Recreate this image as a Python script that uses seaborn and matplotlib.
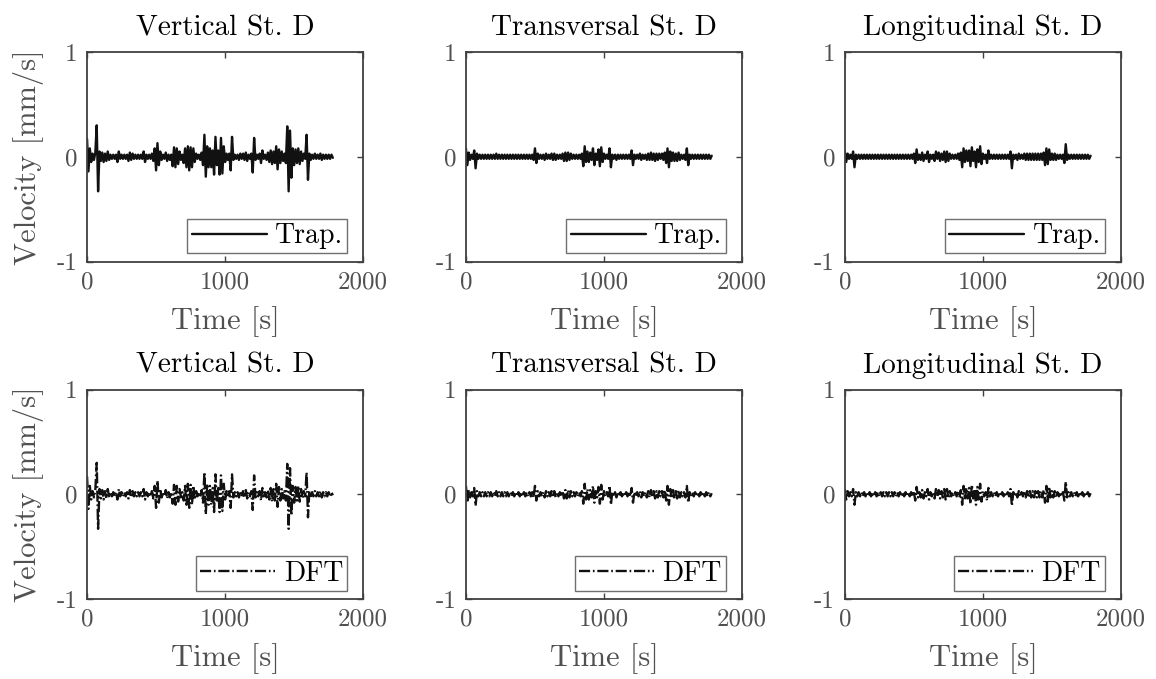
import numpy as np
import pandas as pd
import seaborn as sns
import matplotlib.pyplot as plt

time_s = np.arange(0, 1790, 10)

vertical = [
    0.17, -0.14, 0.08, -0.05, 0.03, -0.03, 0.04, 0.30, -0.33, 0.05,
    -0.04, 0.04, -0.05, 0.03, -0.04, 0.05, -0.03, 0.02, -0.02, 0.02,
    -0.02, 0.02, -0.05, 0.05, -0.02, 0.02, -0.02, 0.02, -0.02, 0.02,
    -0.04, 0.04, -0.03, 0.03, -0.02, 0.02, -0.02, 0.02, -0.02, 0.02,
    -0.02, 0.05, -0.05, 0.02, -0.02, 0.02, -0.02, 0.03, -0.04, 0.08,
    -0.13, 0.13, -0.08, 0.05, -0.03, 0.02, -0.02, 0.04, -0.04, 0.02,
    -0.03, 0.02, -0.09, 0.09, -0.10, 0.08, -0.07, 0.05, -0.03, 0.02,
    -0.06, 0.08, -0.10, 0.10, -0.13, 0.09, -0.10, 0.08, -0.05, 0.03,
    -0.02, 0.02, -0.03, 0.04, -0.08, 0.21, -0.19, 0.10, -0.10, 0.08,
    -0.10, 0.06, -0.17, 0.19, -0.08, 0.06, -0.17, 0.18, -0.16, 0.10,
    -0.05, 0.03, -0.03, 0.03, -0.13, 0.19, -0.03, 0.02, -0.02, 0.02,
    -0.03, 0.03, -0.02, 0.03, -0.03, 0.04, -0.04, 0.02, -0.02, 0.03,
    -0.15, 0.18, -0.03, 0.02, -0.02, 0.03, -0.06, 0.06, -0.02, 0.02,
    -0.03, 0.04, -0.05, 0.06, -0.07, 0.05, -0.06, 0.10, -0.12, 0.07,
    -0.06, 0.05, -0.04, 0.03, -0.06, 0.29, -0.33, 0.25, -0.20, 0.08,
    -0.08, 0.07, -0.06, 0.08, -0.07, 0.05, -0.04, 0.03, -0.02, 0.21,
    -0.22, 0.03, -0.03, 0.02, -0.02, 0.03, -0.02, 0.02, -0.02, 0.03,
    -0.03, 0.02, -0.02, 0.02, -0.02, 0.02, -0.02, 0.02, -0.01,
]

transversal = [
    0.08, -0.08, 0.04, -0.03, 0.02, -0.02, 0.06, -0.11, 0.03, -0.02,
    0.02, -0.02, 0.02, -0.02, 0.02, -0.02, 0.02, -0.02, 0.02, -0.02,
    0.02, -0.02, 0.03, -0.02, 0.02, -0.02, 0.02, -0.02, 0.02, -0.02,
    0.02, -0.02, 0.02, -0.02, 0.02, -0.02, 0.02, -0.02, 0.02, -0.02,
    0.02, -0.02, 0.02, -0.02, 0.02, -0.02, 0.02, -0.02, 0.02, -0.03,
    0.08, -0.06, 0.03, -0.02, 0.02, -0.02, 0.02, -0.03, 0.03, -0.02,
    0.02, -0.02, 0.03, -0.03, 0.03, -0.03, 0.02, -0.02, 0.02, -0.02,
    0.03, -0.04, 0.04, -0.04, 0.04, -0.03, 0.03, -0.02, 0.02, -0.02,
    0.02, -0.02, 0.02, -0.02, 0.03, -0.09, 0.10, -0.05, 0.05, -0.05,
    0.04, -0.03, 0.08, -0.08, 0.03, -0.03, 0.07, -0.09, 0.09, -0.05,
    0.03, -0.02, 0.02, -0.02, 0.08, -0.10, 0.02, -0.02, 0.02, -0.03,
    0.02, -0.02, 0.02, -0.02, 0.02, -0.02, 0.02, -0.02, 0.02, -0.02,
    0.06, -0.08, 0.02, -0.02, 0.02, -0.02, 0.03, -0.03, 0.02, -0.02,
    0.02, -0.03, 0.03, -0.03, 0.04, -0.03, 0.03, -0.04, 0.03, -0.03,
    0.03, -0.02, 0.03, -0.03, 0.04, -0.06, 0.08, -0.10, 0.05, -0.04,
    0.04, -0.04, 0.03, -0.04, 0.04, -0.03, 0.02, -0.02, 0.02, -0.03,
    0.08, -0.08, 0.02, -0.02, 0.02, -0.02, 0.02, -0.02, 0.02, -0.02,
    0.02, -0.02, 0.02, -0.02, 0.02, -0.02, 0.02, -0.02, 0.01,
]

longitudinal = [
    0.05, -0.05, 0.03, -0.02, 0.02, -0.02, 0.05, -0.10, 0.02, -0.02,
    0.02, -0.02, 0.02, -0.02, 0.02, -0.02, 0.02, -0.02, 0.02, -0.02,
    0.02, -0.02, 0.02, -0.02, 0.02, -0.02, 0.02, -0.02, 0.02, -0.02,
    0.02, -0.02, 0.02, -0.02, 0.02, -0.02, 0.02, -0.02, 0.02, -0.02,
    0.02, -0.02, 0.02, -0.02, 0.02, -0.02, 0.02, -0.02, 0.02, -0.02,
    0.03, -0.06, 0.07, -0.03, 0.02, -0.03, 0.04, -0.04, 0.02, -0.02,
    0.05, -0.05, 0.02, -0.02, 0.02, -0.04, 0.05, -0.02, 0.04, -0.04,
    0.03, -0.03, 0.05, -0.05, 0.05, -0.04, 0.03, -0.02, 0.02, -0.02,
    0.02, -0.02, 0.03, -0.03, 0.04, -0.10, 0.08, -0.05, 0.06, -0.04,
    0.06, -0.09, 0.09, -0.04, 0.05, -0.10, 0.07, -0.05, 0.10, -0.07,
    0.03, -0.02, 0.02, -0.06, 0.06, -0.02, 0.02, -0.02, 0.02, -0.02,
    0.02, -0.02, 0.02, -0.02, 0.02, -0.02, 0.02, -0.02, 0.02, -0.02,
    0.05, -0.11, 0.02, -0.02, 0.02, -0.03, 0.03, -0.02, 0.02, -0.02,
    0.03, -0.03, 0.03, -0.03, 0.03, -0.03, 0.03, -0.03, 0.03, -0.03,
    0.03, -0.03, 0.03, -0.03, 0.04, -0.08, 0.08, -0.07, 0.07, -0.03,
    0.03, -0.03, 0.03, -0.03, 0.02, -0.02, 0.02, -0.02, 0.02, -0.06,
    0.12, -0.03, 0.02, -0.02, 0.02, -0.02, 0.02, -0.02, 0.02, -0.02,
    0.02, -0.02, 0.02, -0.02, 0.02, -0.02, 0.02, -0.02, 0.01,
]

# the DFT integration gives, at this scale, the same traces as the trapezoidal one
components = ["Vertical", "Transversal", "Longitudinal"]
methods = ["Trap.", "DFT"]
traces = {"Vertical": vertical, "Transversal": transversal, "Longitudinal": longitudinal}
line_styles = {"Trap.": "-", "DFT": (0, (8, 2.0, 1.2, 2.0))}

x_ticks = [0, 1000, 2000]
y_ticks = [-1, 0, 1]
y_tick_labels = ["-1", "0", "1"]

sns.set_style("ticks")
plt.rcParams["font.family"] = ["cmr10", "DejaVu Serif"]
plt.rcParams["axes.unicode_minus"] = False
plt.rcParams["axes.formatter.use_mathtext"] = True
plt.rcParams["mathtext.fontset"] = "cm"
plt.rcParams["lines.scale_dashes"] = False

axis_col = "#404040"
label_col = "#505050"

fig, axes = plt.subplots(2, 3, figsize=(11.56, 6.79), dpi=100)
fig.subplots_adjust(left=0.0753, right=0.9697, top=0.9234, bottom=0.1178,
                    wspace=0.372, hspace=0.611)

for row, method in enumerate(methods):
    for col, comp in enumerate(components):
        ax = axes[row, col]
        df = pd.DataFrame({"Time": time_s, "Velocity": traces[comp]})
        sns.lineplot(data=df, x="Time", y="Velocity", ax=ax, estimator=None,
                     sort=False, color="#111111", lw=1.7,
                     linestyle=line_styles[method], label=method)
        ax.set_xlim(0, 2000)
        ax.set_ylim(-1, 1)
        ax.set_xticks(x_ticks)
        ax.set_xticklabels([str(v) for v in x_ticks])
        ax.set_yticks(y_ticks)
        ax.set_yticklabels(y_tick_labels)
        ax.tick_params(direction="in", length=4, width=1, top=True, right=True,
                       colors=axis_col, labelcolor=label_col, labelsize=18, pad=7)
        for sp in ax.spines.values():
            sp.set_visible(True)
            sp.set_color(axis_col)
            sp.set_linewidth(1.3)
        ax.set_title(f"{comp} St. D", fontsize=21, color="black", pad=12)
        ax.set_xlabel("Time [s]", fontsize=22, color=label_col, labelpad=9)
        if col == 0:
            ax.set_ylabel("Velocity [mm/s]", fontsize=22, color=label_col, labelpad=9)
        else:
            ax.set_ylabel("")
        leg = ax.legend(loc="lower right", bbox_to_anchor=(1 - 16 / 277, 8 / 209),
                        borderaxespad=0, fontsize=20, frameon=True, fancybox=False,
                        framealpha=1, edgecolor="#707070", handlelength=2.7,
                        handletextpad=0.3, borderpad=0.15)
        leg.get_frame().set_linewidth(1.0)
        for txt in leg.get_texts():
            txt.set_color("black")

plt.savefig("out.png", dpi=100)
